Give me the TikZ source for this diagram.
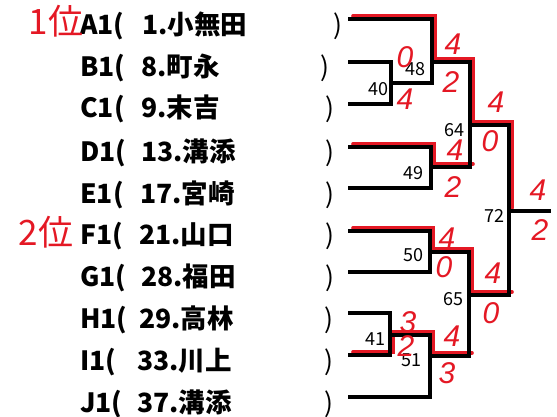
\documentclass[tikz,border=0pt]{standalone}
\usepackage{fontspec}
\setmainfont{Noto Sans CJK JP}
\newfontfamily\handfont{Liberation Sans}
\usepackage{tikz}
\usetikzlibrary{positioning}
\definecolor{pen}{RGB}{228,24,36}

\begin{document}
\begin{tikzpicture}[
            x=1pt, y=-1pt,
            entry/.style={anchor=base west, inner sep=0, font=\fontsize{26.5}{26.5}\selectfont\bfseries},
            paren/.style={anchor=base, inner sep=0, font=\fontsize{26.5}{26.5}\selectfont},
            game/.style={inner sep=0, font=\fontsize{18}{18}\selectfont},
            score/.style={inner sep=0, text=pen, font=\handfont\itshape\fontsize{30}{30}\selectfont},
            rank/.style={inner sep=0, text=pen, font=\fontsize{35}{35}\selectfont},
            bar/.style={line width=3.2pt, line cap=rect},
            win/.style={line width=3.6pt, pen, line cap=round}
        ]
            \useasboundingbox (0,0) rectangle (557,417);

            % entries
            \node[entry] (cA) at (80,35) {A1(};
            \node[entry] (nA) at (142,35) {1.小無田};
            \node[paren] (pA) at (338,35) {)};
            \node[entry] (cB) at (80,77) {B1(};
            \node[entry] (nB) at (141,77) {8.町永};
            \node[paren] (pB) at (325,77) {)};
            \node[entry] (cC) at (80,118) {C1(};
            \node[entry] (nC) at (141,118) {9.末吉};
            \node[paren] (pC) at (330,118) {)};
            \node[entry] (cD) at (80,161) {D1(};
            \node[entry] (nD) at (141,161) {13.溝添};
            \node[paren] (pD) at (330,161) {)};
            \node[entry] (cE) at (80,203) {E1(};
            \node[entry] (nE) at (140,203) {17.宮崎};
            \node[paren] (pE) at (330,203) {)};
            \node[entry] (cF) at (80,244) {F1(};
            \node[entry] (nF) at (139,244) {21.山口};
            \node[paren] (pF) at (330,244) {)};
            \node[entry] (cG) at (80,286) {G1(};
            \node[entry] (nG) at (141,286) {28.福田};
            \node[paren] (pG) at (330,286) {)};
            \node[entry] (cH) at (80,328) {H1(};
            \node[entry] (nH) at (139,328) {29.高林};
            \node[paren] (pH) at (329,328) {)};
            \node[entry] (cI) at (80,370) {I1(};
            \node[entry] (nI) at (137,370) {33.川上};
            \node[paren] (pI) at (329,370) {)};
            \node[entry] (cJ) at (80,412) {J1(};
            \node[entry] (nJ) at (137,412) {37.溝添};
            \node[paren] (pJ) at (329,412) {)};

            % bracket points
            \coordinate (sA) at (350,19);
            \coordinate (sB) at (350,62);
            \coordinate (sC) at (350,104);
            \coordinate (sD) at (350,147);
            \coordinate (sE) at (350,188);
            \coordinate (sF) at (350,231);
            \coordinate (sG) at (350,272);
            \coordinate (sH) at (350,313);
            \coordinate (sI) at (350,355);
            \coordinate (sJ) at (350,397);
            \coordinate (m40) at (391,83);
            \coordinate (m48) at (432,62);
            \coordinate (m49) at (431,167);
            \coordinate (m64) at (470,125);
            \coordinate (m72) at (509,211);
            \coordinate (m50) at (430,252);
            \coordinate (m41) at (390,335);
            \coordinate (m51) at (430,356);
            \coordinate (m65) at (469,295);
            \coordinate (fin) at (549,211);

            % winners
            \begin{scope}[transform canvas={xshift=3pt, yshift=3pt}]
                \draw[win] (sA) -| (m48) -| (m64) -| (m72);
                \draw[win] (sD) -| (m49) -- (m49 -| m64);
                \draw[win] (sF) -| (m50) -| (m65) -- (m65 -| m72);
                \draw[win] (sI) -| (m41) -| (m51) -- (m51 -| m65);
            \end{scope}

            % bracket
            \draw[bar] (sA) -| (m48);
            \draw[bar] (sB) -| (m40);
            \draw[bar] (sC) -| (m40);
            \draw[bar] (m40) -| (m48);
            \draw[bar] (sD) -| (m49);
            \draw[bar] (sE) -| (m49);
            \draw[bar] (m48) -| (m64);
            \draw[bar] (m49) -| (m64);
            \draw[bar] (sF) -| (m50);
            \draw[bar] (sG) -| (m50);
            \draw[bar] (sH) -| (m41);
            \draw[bar] (sI) -| (m41);
            \draw[bar] (m41) -| (m51);
            \draw[bar] (sJ) -| (m51);
            \draw[bar] (m50) -| (m65);
            \draw[bar] (m51) -| (m65);
            \draw[bar] (m64) -| (m72);
            \draw[bar] (m65) -| (m72);
            \draw[bar] (m72) -- (fin);

            % game numbers
            \node[game] (g40) at (378,89) {40};
            \node[game] (g48) at (415,69) {48};
            \node[game] (g49) at (413,173) {49};
            \node[game] (g64) at (454,130) {64};
            \node[game] (g72) at (494,216) {72};
            \node[game] (g50) at (413,255) {50};
            \node[game] (g65) at (453,299) {65};
            \node[game] (g41) at (375,339) {41};
            \node[game] (g51) at (411,360) {51};

            % scores
            \node[score] (s40a) at (405,57) {0};
            \node[score] (s40b) at (405,99) {4};
            \node[score] (s48a) at (453,44) {4};
            \node[score] (s48b) at (451,82) {2};
            \node[score] (s64a) at (496,102) {4};
            \node[score] (s64b) at (490,141) {0};
            \node[score] (s49a) at (455,150) {4};
            \node[score] (s49b) at (453,187) {2};
            \node[score] (s72a) at (538,190) {4};
            \node[score] (s72b) at (540,230) {2};
            \node[score] (s50a) at (447,238) {4};
            \node[score] (s50b) at (444,267) {0};
            \node[score] (s65a) at (493,273) {4};
            \node[score] (s65b) at (491,313) {0};
            \node[score] (s41a) at (408,322) {3};
            \node[score] (s41b) at (406,346) {2};
            \node[score] (s51a) at (452,336) {4};
            \node[score] (s51b) at (447,373) {3};

            % ranks
            \node[rank] (r1) at (56,21) {1位};
            \node[rank] (r2) at (46,232) {2位};
        \end{tikzpicture}
\end{document}
